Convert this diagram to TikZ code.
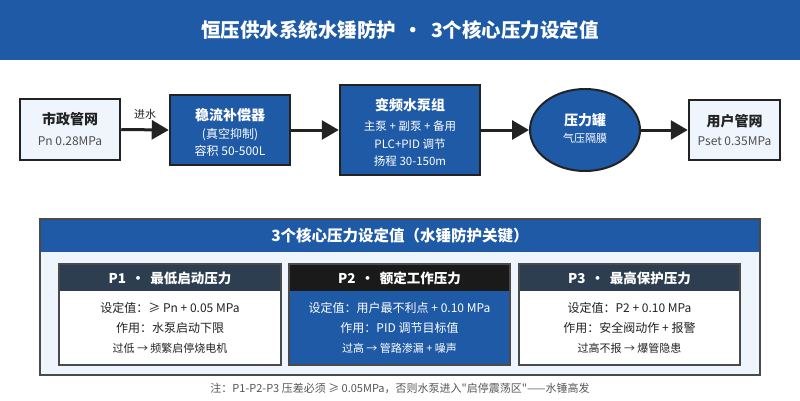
\documentclass[tikz,border=0pt]{standalone}
\usepackage{fontspec}
\setmainfont{Noto Sans CJK SC}
\usetikzlibrary{arrows.meta,shapes.geometric}
\definecolor{mainblue}{HTML}{1F5AA6}
\definecolor{lightfill}{HTML}{EEF5FD}
\definecolor{darkline}{HTML}{222222}
\definecolor{slate}{HTML}{2C3E50}
\definecolor{nearblack}{HTML}{1A1A1A}
\definecolor{panelline}{HTML}{4A4A4A}
\definecolor{notegray}{HTML}{555555}
\newcommand{\fs}[1]{\fontsize{#1}{#1}\selectfont}
\newcommand{\sq}{\XeTeXglyph\XeTeXcharglyph"22\relax}
\tikzset{
  lightbox/.style={draw=darkline, line width=2.5pt, fill=lightfill, inner sep=0pt},
  bluebox/.style={draw=darkline, line width=2.5pt, fill=mainblue, inner sep=0pt},
  flow/.style={draw=darkline, line width=3pt, -{Triangle[length=17pt,width=19pt]}},
  ttl/.style={font=\bfseries\fs{14}, inner sep=0pt},
  sub/.style={font=\fs{12}, inner sep=0pt},
  cardhead/.style={font=\bfseries\fs{13.5}, text=white, inner sep=0pt},
  cardtxt/.style={font=\fs{12}, inner sep=0pt},
  cardsmall/.style={font=\fs{11}, inner sep=0pt},
}
\begin{document}
\begin{tikzpicture}[x=1pt,y=-1pt]
\useasboundingbox (0,0) rectangle (800,400);
% title bar
\fill[mainblue] (0,0) rectangle (800,60);
\node[font=\bfseries\fs{19.5}, text=white, inner sep=0pt] (title) at (400,30) {恒压供水系统水锤防护 \,·\, 3个核心压力设定值};

% flow nodes
\node[lightbox, minimum width=100pt, minimum height=61pt] (src) at (70,129.5) {};
\node[ttl, text=darkline] (srct) at (70,119) {市政管网};
\node[sub, text=darkline!80] (srcs) at (70,141) {Pn 0.28MPa};

\node[bluebox, minimum width=120pt, minimum height=70pt] (comp) at (230,130) {};
\node[ttl, text=white] (compt) at (230,115) {稳流补偿器};
\node[sub, text=white] (comps1) at (230,135) {(真空抑制)};
\node[sub, text=white] (comps2) at (230,151) {容积 50-500L};

\node[bluebox, minimum width=140pt, minimum height=90pt] (pump) at (410,130) {};
\node[ttl, text=white] (pumpt) at (410,105) {变频水泵组};
\node[sub, font=\fs{11.5}, text=white] (pumps1) at (410,126) {主泵 + 副泵 + 备用};
\node[sub, font=\fs{11.5}, text=white] (pumps2) at (410,144) {PLC+PID 调节};
\node[sub, font=\fs{11.5}, text=white] (pumps3) at (410,161) {扬程 30-150m};

\node[ellipse, draw=darkline, line width=2pt, fill=mainblue, minimum width=110pt, minimum height=82pt, inner sep=0pt] (tank) at (585,130) {};
\node[ttl, text=white] (tankt) at (585,120) {压力罐};
\node[sub, font=\fs{11}, text=white] (tanks) at (585,138) {气压隔膜};

\node[lightbox, minimum width=91pt, minimum height=60pt] (user) at (734.5,130) {};
\node[ttl, text=darkline] (usert) at (734.5,121) {用户管网};
\node[sub, text=darkline!80] (users) at (734.5,141) {Pset 0.35MPa};

\draw[flow] (src.east) -- (comp.west);
\draw[flow] (comp.east) -- (pump.west);
\draw[flow] (pump.east) -- (tank.west);
\draw[flow] (tank.east) -- (user.west);
\node[font=\fs{11}, text=darkline, inner sep=0pt] (inlab) at (145,114) {进水};

% bottom panel
\fill[lightfill] (40,252) rectangle (760,375);
\fill[mainblue] (40,219) rectangle (760,252);
\draw[panelline, line width=2pt] (40,219) rectangle (760,375);
\node[font=\bfseries\fs{15.5}, text=white, inner sep=0pt] (paneltitle) at (400,236) {3个核心压力设定值（水锤防护关键）};

% card P1
\fill[white] (59,291) rectangle (281,365);
\fill[slate] (59,264) rectangle (281,291);
\draw[panelline, line width=1.5pt] (59,264) rectangle (281,365);
\node[cardhead] (p1h) at (170,278) {P1 \,·\, 最低启动压力};
\node[cardtxt, text=darkline] (p1a) at (170,308) {设定值：≥ Pn + 0.05 MPa};
\node[cardtxt, text=darkline] (p1b) at (170,328) {作用：水泵启动下限};
\node[cardsmall, text=darkline] (p1c) at (170,348) {过低 → 频繁启停烧电机};

% card P2
\fill[mainblue] (289,291) rectangle (510,365);
\fill[nearblack] (289,264) rectangle (510,291);
\draw[panelline, line width=1.5pt] (289,264) rectangle (510,365);
\node[cardhead] (p2h) at (399.5,278) {P2 \,·\, 额定工作压力};
\node[cardtxt, text=white] (p2a) at (399.5,308) {设定值：用户最不利点 + 0.10 MPa};
\node[cardtxt, text=white] (p2b) at (399.5,328) {作用：PID 调节目标值};
\node[cardsmall, text=white] (p2c) at (399.5,348) {过高 → 管路渗漏 + 噪声};

% card P3
\fill[white] (519,291) rectangle (740,365);
\fill[slate] (519,264) rectangle (740,291);
\draw[panelline, line width=1.5pt] (519,264) rectangle (740,365);
\node[cardhead] (p3h) at (629.5,278) {P3 \,·\, 最高保护压力};
\node[cardtxt, text=darkline] (p3a) at (629.5,308) {设定值：P2 + 0.10 MPa};
\node[cardtxt, text=darkline] (p3b) at (629.5,328) {作用：安全阀动作 + 报警};
\node[cardsmall, text=darkline] (p3c) at (629.5,348) {过高不报 → 爆管隐患};

% note
\node[font=\fs{11}, text=notegray, inner sep=0pt] (note) at (400,388) {注：P1-P2-P3 压差必须 ≥ 0.05MPa，否则水泵进入\sq 启停震荡区\sq ——水锤高发};
\end{tikzpicture}
\end{document}
